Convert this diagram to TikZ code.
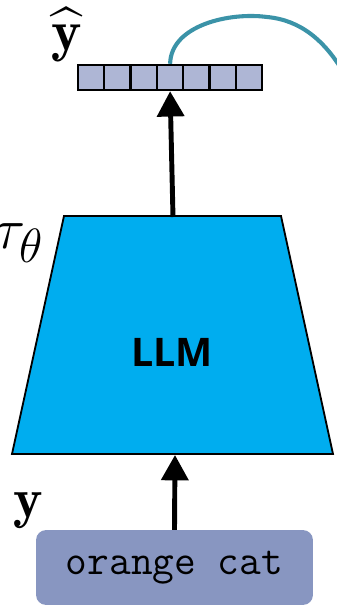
\documentclass[tikz,border=0pt]{standalone}
\usepackage{amssymb,amsfonts}
\usepackage{fontspec}
\setsansfont{Open Sans}
\usetikzlibrary{arrows.meta}
\definecolor{vecfill}{HTML}{AEB6D5}
\definecolor{curveteal}{HTML}{3B93A8}
\definecolor{llmblue}{HTML}{00ADEF}
\definecolor{promptfill}{HTML}{8896C1}
\newcommand{\biglabel}[2]{\scalebox{#1}{\Huge$#2$}}
\tikzset{
  cell/.style={draw, line width=1.6pt, fill=vecfill, minimum width=0.66cm,
    minimum height=0.63cm, inner sep=0pt},
  flow/.style={line width=3.5pt, -{Triangle[width=19pt,length=18pt]}},
  prompt/.style={fill=promptfill, rounded corners=7pt, minimum width=6.92cm,
    minimum height=1.87cm, font=\ttfamily\fontsize{30}{32}\selectfont},
  mathlabel/.style={inner sep=0pt}
}

\begin{document}
\begin{tikzpicture}[x=0.025cm, y=-0.025cm]
\useasboundingbox (0,0) rectangle (336,606);

% output vector
\foreach \i in {0,...,6}
  \node[cell] (c\i) at (91.2+26.3*\i, 77.5) {};
\node[mathlabel] (yhat) at (67,35) {\biglabel{1.65}{\widehat{\mathbf{y}}}};
\draw[curveteal, line width=2.9pt] (c3.north)
  .. controls (171,25) and (230,12) .. (267,17)
  .. controls (300,20) and (325,40) .. (345,75);

% encoder
\coordinate (tl) at (64,216);
\coordinate (tr) at (281,216);
\coordinate (br) at (333,454);
\coordinate (bl) at (12,454);
\coordinate (top) at (173,217);
\coordinate (bot) at (175,455);
\draw[fill=llmblue, line width=1.3pt] (tl) -- (tr) -- (br) -- (bl) -- cycle;
\node[font=\sffamily\bfseries\fontsize{28}{30}\selectfont] (llm) at (172,352) {LLM};
\node[mathlabel] (tau) at (19,243) {\biglabel{1.65}{\tau_\theta}};

% input prompt
\node[prompt] (txt) at (174.5,567.5) {orange cat};
\node[mathlabel] (y) at (28,511) {\biglabel{1.6}{\mathbf{y}}};

\draw[flow] (txt.north) -- (bot);
\draw[flow] (top) -- (c3.south);
\end{tikzpicture}
\end{document}
